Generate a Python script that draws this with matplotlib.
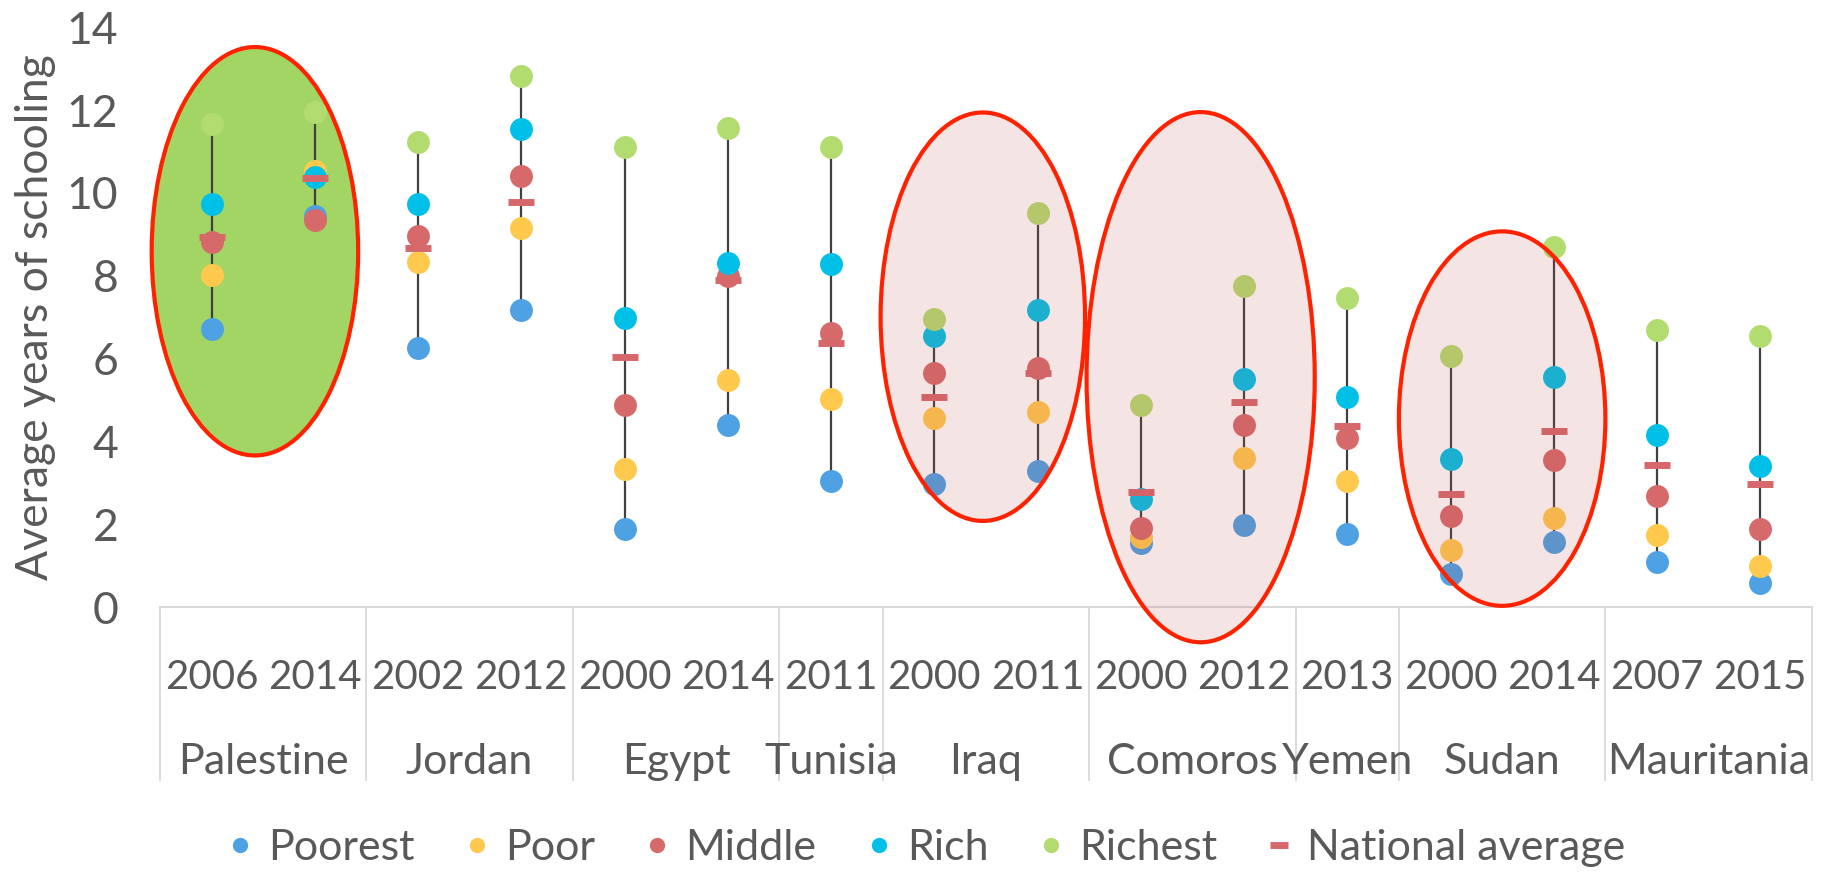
import numpy as np
import matplotlib
matplotlib.use("Agg")
import matplotlib.pyplot as plt
from matplotlib.patches import Ellipse
from matplotlib.lines import Line2D

plt.rcParams['font.family'] = ['Lato', 'DejaVu Sans']

countries = ["Palestine", "Jordan", "Egypt", "Tunisia", "Iraq",
             "Comoros", "Yemen", "Sudan", "Mauritania"]
years = [["2006", "2014"], ["2002", "2012"], ["2000", "2014"], ["2011"],
         ["2000", "2011"], ["2000", "2012"], ["2013"], ["2000", "2014"],
         ["2007", "2015"]]

poorest = [6.71, 9.45, 6.26, 7.18, 1.88, 4.40, 3.04, 2.98, 3.29, 1.55, 1.97, 1.77, 0.81, 1.58, 1.10, 0.59]
poor = [8.02, 10.53, 8.32, 9.14, 3.33, 5.49, 5.03, 4.56, 4.70, 1.70, 3.60, 3.04, 1.38, 2.14, 1.73, 0.98]
middle = [8.81, 9.34, 8.95, 10.41, 4.89, 8.00, 6.61, 5.66, 5.78, 1.91, 4.40, 4.09, 2.21, 3.55, 2.69, 1.88]
rich = [9.72, 10.39, 9.74, 11.53, 6.99, 8.31, 8.29, 6.55, 7.18, 2.61, 5.51, 5.08, 3.58, 5.56, 4.16, 3.41]
richest = [11.67, 11.96, 11.23, 12.83, 11.11, 11.57, 11.11, 6.95, 9.51, 4.89, 7.76, 7.46, 6.06, 8.69, 6.69, 6.55]
national = [8.93, 10.35, 8.68, 9.77, 6.04, 7.90, 6.37, 5.08, 5.65, 2.77, 4.94, 4.36, 2.74, 4.26, 3.44, 2.96]

colors = {"Poorest": "#4ea1e3", "Poor": "#fec94d", "Middle": "#d66a6b",
          "Rich": "#00c0e8", "Richest": "#b3dc70"}
nat_color = "#d6686c"
text_color = "#595959"
grid_color = "#d9d9d9"

x = np.arange(len(poorest))

fig = plt.figure(figsize=(18.3, 8.76), dpi=100)
ax = fig.add_axes([0.0874, 0.307, 0.9027, 0.662])

# min-max range lines
ax.vlines(x, np.minimum(poorest, richest), np.maximum(poorest, richest),
          color="#404040", lw=1.6, zorder=2)

series = [("Poorest", poorest), ("Poor", poor), ("Middle", middle),
          ("Rich", rich), ("Richest", richest)]
for name, vals in series:
    ax.plot(x, vals, 'o', ls='none', ms=16.5, color=colors[name], mec='none',
            zorder=3)
ax.plot(x, national, '_', ls='none', ms=19, mew=5, color=nat_color, zorder=3.5)

# highlight ellipses
ax.add_patch(Ellipse((0.42, 8.59), 2.0, 9.86, facecolor="#a2d564",
                     edgecolor="#ff2200", lw=3.0, zorder=1, clip_on=False))
for cx, cy, w, h in [(7.47, 7.01, 1.98, 9.86), (9.58, 5.55, 2.21, 12.8),
                     (12.5, 4.55, 2.0, 9.04)]:
    ax.add_patch(Ellipse((cx, cy), w, h, facecolor=(0.75, 0.31, 0.30, 0.15),
                         edgecolor="#ff2200", lw=3.0, zorder=5, clip_on=False))

ax.set_xlim(-0.5, len(x) - 0.5)
ax.set_ylim(0, 14)
ax.set_yticks(range(0, 15, 2))
ax.tick_params(axis='y', length=0, pad=30, labelsize=32, labelcolor=text_color)
ax.set_ylabel("Average years of schooling", fontsize=32, color=text_color,
              labelpad=8)
for s in ["top", "right", "left"]:
    ax.spines[s].set_visible(False)
ax.spines["bottom"].set_color(grid_color)
ax.spines["bottom"].set_linewidth(1.5)
ax.set_xticks([])

# two-level category axis
trans = ax.get_xaxis_transform()
flat_years = [y for grp in years for y in grp]
for i, yr in enumerate(flat_years):
    ax.text(i, -0.121, yr, transform=trans, ha='center', va='center',
            fontsize=29, color=text_color)
start = 0
bounds = [-0.5]
for c, grp in zip(countries, years):
    mid = start + (len(grp) - 1) / 2
    ax.text(mid, -0.267, c, transform=trans, ha='center', va='center',
            fontsize=31, color=text_color)
    start += len(grp)
    bounds.append(start - 0.5)
for b in bounds:
    ax.plot([b, b], [0, -0.298], transform=trans, color=grid_color, lw=1.3,
            clip_on=False)

handles = [Line2D([], [], marker='o', ls='none', ms=11, color=colors[n], mec='none')
           for n, _ in series]
handles.append(Line2D([], [], marker='_', ls='none', ms=13, mew=5, color=nat_color))
labels = [n for n, _ in series] + ["National average"]
leg = fig.legend(handles, labels, loc='center', bbox_to_anchor=(0.505, 0.032),
                 ncol=6, frameon=False, fontsize=31, handletextpad=0.25,
                 columnspacing=1.05, handlelength=0.8, borderpad=0)
for t in leg.get_texts():
    t.set_color(text_color)

fig.savefig("out.png", dpi=100)
